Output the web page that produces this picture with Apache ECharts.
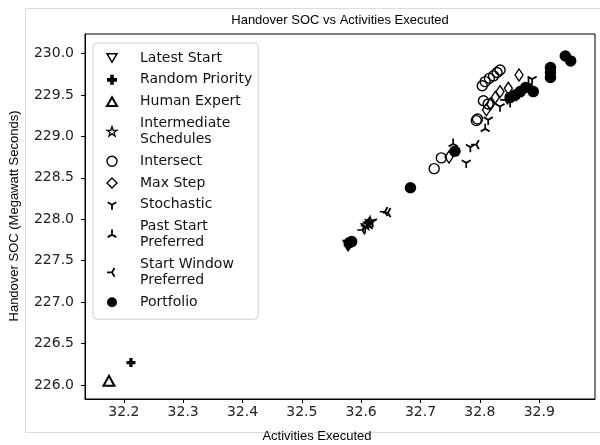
<!DOCTYPE html>
<html>
<head>
<meta charset="utf-8">
<script src="https://cdn.jsdelivr.net/npm/echarts@6/dist/echarts.min.js"></script>
<style>html,body{margin:0;padding:0;background:#fff}#c{width:600px;height:445px}</style>
</head>
<body>
<div id="c"></div>
<script>
// ---- data (Activities Executed, Handover SOC) ----
const latestStart = [[32.578, 227.69]];
const randomPriority = [[32.212, 226.27]];
const humanExpert = [[32.175, 226.05]];
const intermediateSchedules = [[32.608, 227.93], [32.615, 227.98], [32.866, 229.54], [32.856, 229.49], [32.612, 227.95]];
const intersect = [[32.834, 229.80], [32.829, 229.77], [32.823, 229.73], [32.816, 229.70], [32.809, 229.66], [32.804, 229.61],
  [32.806, 229.43], [32.814, 229.39], [32.796, 229.21], [32.794, 229.19], [32.735, 228.74], [32.723, 228.61]];
const maxStep = [[32.866, 229.74], [32.848, 229.58], [32.834, 229.54], [32.826, 229.47], [32.818, 229.39], [32.811, 229.32],
  [32.748, 228.75], [32.578, 227.69]];
const stochastic = [[32.814, 229.20], [32.834, 229.36], [32.851, 229.41], [32.888, 229.69], [32.777, 228.68],
  [32.619, 227.97], [32.607, 227.90], [32.784, 228.87]];
const pastStartPreferred = [[32.755, 228.91], [32.809, 229.09], [32.871, 229.56], [32.882, 229.64], [32.612, 227.92], [32.581, 227.71]];
const startWindowPreferred = [[32.645, 228.08], [32.794, 228.90], [32.861, 229.53], [32.843, 229.44], [32.602, 227.87], [32.640, 228.09]];
const portfolio = [[32.580, 227.715], [32.584, 227.73], [32.683, 228.38], [32.758, 228.82], [32.890, 229.54], [32.868, 229.54],
  [32.877, 229.59], [32.860, 229.50], [32.851, 229.47], [32.919, 229.83], [32.919, 229.77], [32.919, 229.71],
  [32.944, 229.97], [32.953, 229.91]];
const xTicks = [32.2, 32.3, 32.4, 32.5, 32.6, 32.7, 32.8, 32.9];
const yTicks = [226.0, 226.5, 227.0, 227.5, 228.0, 228.5, 229.0, 229.5, 230.0];

// ---- symbols ----
const SYM = {
  triDown: 'path://M0,-10 M0,0 L0,10 M0,0 L8.66,-5 M0,0 L-8.66,-5',
  triUp: 'path://M0,10 M0,0 L0,-10 M0,0 L8.66,5 M0,0 L-8.66,5',
  triLeft: 'path://M10,0 M0,0 L-10,0 M0,0 L5,8.66 M0,0 L5,-8.66',
  star: 'path://M0,-10 L2.245,-3.09 L9.511,-3.09 L3.633,1.18 L5.878,8.09 L0,3.82 L-5.878,8.09 L-3.633,1.18 L-9.511,-3.09 L-2.245,-3.09 Z',
  plus: 'path://M-1.1,-3 L1.1,-3 L1.1,-1.1 L3,-1.1 L3,1.1 L1.1,1.1 L1.1,3 L-1.1,3 L-1.1,1.1 L-3,1.1 L-3,-1.1 L-1.1,-1.1 Z',
  downTri: 'path://M-5,-4.3 L5,-4.3 L0,4.3 Z',
  upTri: 'path://M-5,4.3 L5,4.3 L0,-4.3 Z'
};
const openStyle = (w) => ({ color: 'rgba(0,0,0,0)', borderColor: '#000', borderWidth: w });
const fillStyle = { color: '#000', borderWidth: 0 };

const specs = [
  { name: 'Latest Start', data: latestStart, symbol: SYM.downTri, size: [10, 9], style: openStyle(1.5) },
  { name: 'Random Priority', data: randomPriority, symbol: SYM.plus, size: 9, style: fillStyle },
  { name: 'Human Expert', data: humanExpert, symbol: SYM.upTri, size: [11, 10], style: openStyle(2) },
  { name: 'Intermediate Schedules', data: intermediateSchedules, symbol: SYM.star, size: 9, style: openStyle(1.3) },
  { name: 'Intersect', data: intersect, symbol: 'circle', size: 10, style: openStyle(1.4) },
  { name: 'Max Step', data: maxStep, symbol: 'diamond', size: [8, 12], style: openStyle(1.4) },
  { name: 'Stochastic', data: stochastic, symbol: SYM.triDown, size: [9, 10.4], style: openStyle(1.8) },
  { name: 'Past Start Preferred', data: pastStartPreferred, symbol: SYM.triUp, size: [9, 10.4], style: openStyle(1.8) },
  { name: 'Start Window Preferred', data: startWindowPreferred, symbol: SYM.triLeft, size: [10.4, 9], style: openStyle(1.8) },
  { name: 'Portfolio', data: portfolio, symbol: 'circle', size: 11.5, style: fillStyle }
];
const legendNames = {
  'Intermediate Schedules': 'Intermediate\nSchedules',
  'Past Start Preferred': 'Past Start\nPreferred',
  'Start Window Preferred': 'Start Window\nPreferred'
};

const chart = echarts.init(document.getElementById('c'), null, { renderer: 'canvas' });
const X0 = 32.1346, X1 = 32.994, Y0 = 225.83, Y1 = 230.235;
const axisFont = { fontFamily: 'DejaVu Sans', fontSize: 14, color: '#222' };

chart.setOption({
  animation: false,
  backgroundColor: '#fff',
  grid: { left: 85, right: 5, top: 34, bottom: 46, show: true, borderColor: '#000', borderWidth: 1, backgroundColor: 'transparent' },
  xAxis: {
    type: 'value', min: X0, max: X1,
    axisLine: { show: true, onZero: false, lineStyle: { color: '#000', width: 1 } },
    axisTick: { show: true, length: 4, customValues: xTicks, lineStyle: { color: '#000' } },
    axisLabel: { customValues: xTicks, margin: 6, formatter: (v) => v.toFixed(1), ...axisFont },
    splitLine: { show: false }
  },
  yAxis: {
    type: 'value', min: Y0, max: Y1,
    axisLine: { show: true, onZero: false, lineStyle: { color: '#000', width: 1 } },
    axisTick: { show: true, length: 4, customValues: yTicks, lineStyle: { color: '#000' } },
    axisLabel: { customValues: yTicks, margin: 11, formatter: (v) => v.toFixed(1), ...axisFont },
    splitLine: { show: false }
  },
  legend: {
    orient: 'vertical', left: 93, top: 43,
    padding: [7, 6, 9, 13],
    itemGap: 5.8, itemWidth: 10, itemHeight: 10,
    borderColor: '#d0d0d0', borderWidth: 1, borderRadius: 4,
    backgroundColor: 'rgba(255,255,255,0.85)',
    selectedMode: false,
    textStyle: { fontFamily: 'DejaVu Sans', fontSize: 14, lineHeight: 16, color: '#111', padding: [0, 0, 0, 18] },
    formatter: (n) => legendNames[n] || n,
    data: specs.map(s => ({ name: s.name, icon: s.symbol, itemStyle: Object.assign({}, s.style) }))
  },
  graphic: [
    { type: 'rect', silent: true, z: -10, shape: { x: 25.5, y: 8.5, width: 580, height: 424 }, style: { fill: 'none', stroke: '#dcdcdc', lineWidth: 1 } },
    { type: 'text', silent: true, x: 340, y: 20, style: { text: 'Handover SOC vs Activities Executed', fontFamily: 'Liberation Sans', fontSize: 13, fill: '#000', align: 'center', verticalAlign: 'middle' } },
    { type: 'text', silent: true, x: 317, y: 436, style: { text: 'Activities Executed', fontFamily: 'Liberation Sans', fontSize: 13, fill: '#000', align: 'center', verticalAlign: 'middle' } },
    { type: 'text', silent: true, x: 14, y: 216, rotation: Math.PI / 2, style: { text: 'Handover SOC (Megawatt Seconds)', fontFamily: 'Liberation Sans', fontSize: 13, fill: '#000', align: 'center', verticalAlign: 'middle' } }
  ],
  series: specs.map((s, i) => ({
    name: s.name, type: 'scatter', data: s.data,
    symbol: s.symbol, symbolSize: s.size,
    itemStyle: Object.assign({ opacity: 1 }, s.style),
    emphasis: { disabled: true }, silent: true, z: 2 + i * 0.01
  }))
});
</script>
</body>
</html>
